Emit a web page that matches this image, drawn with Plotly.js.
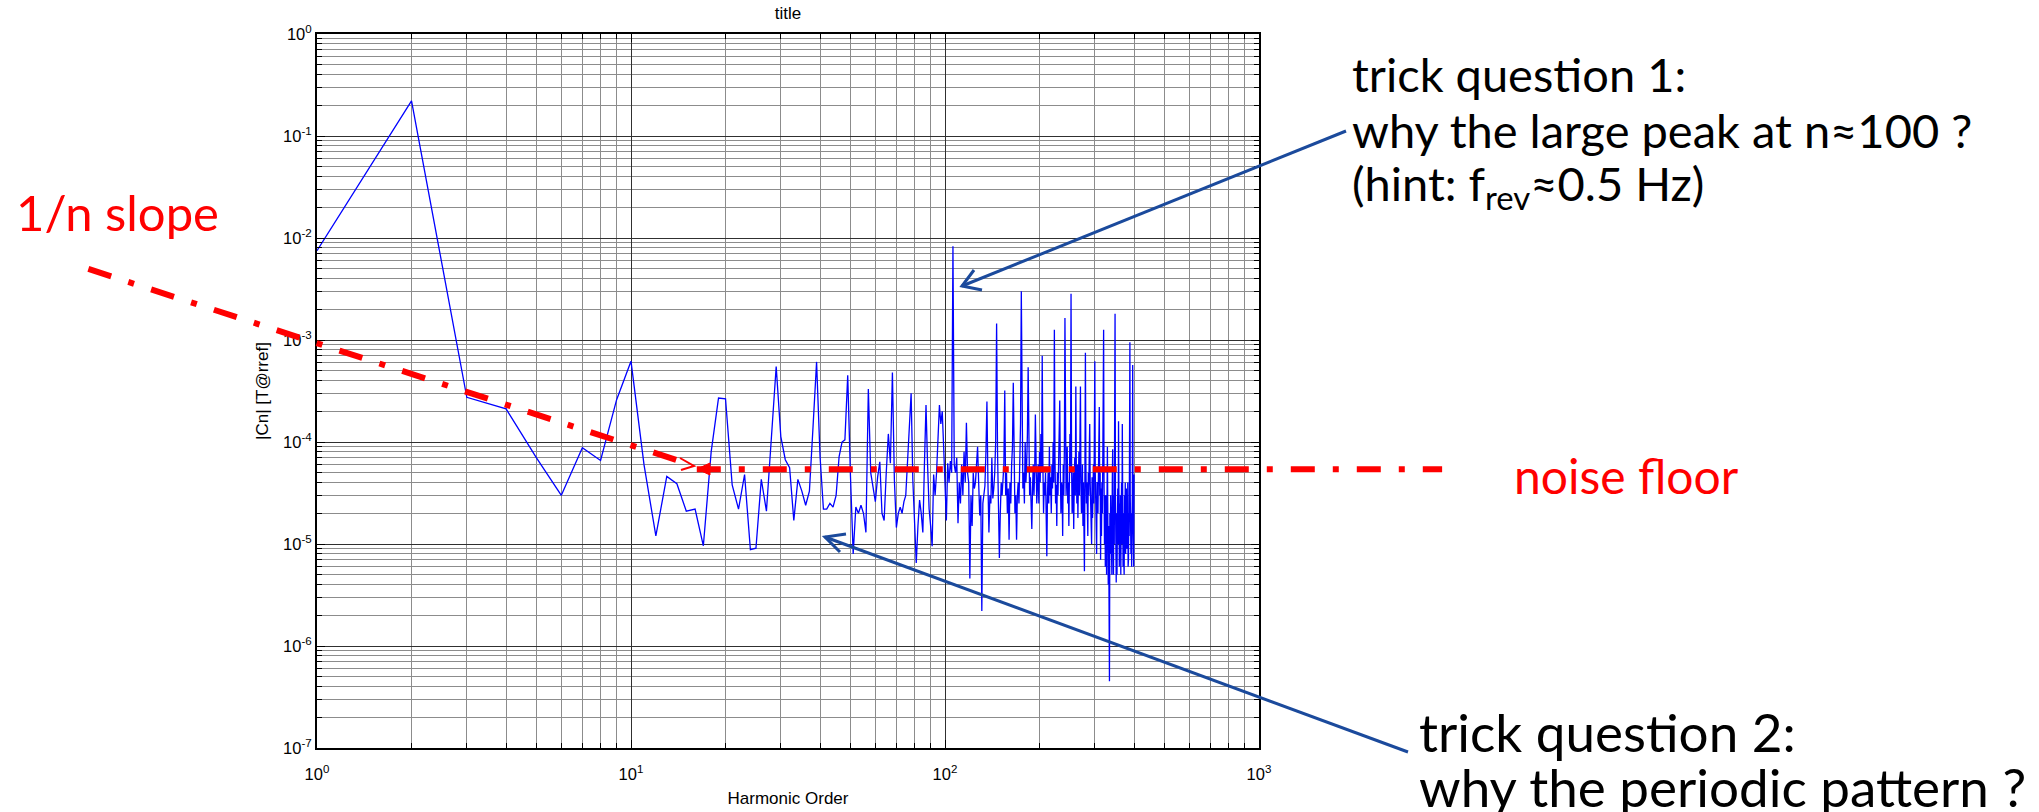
<!DOCTYPE html>
<html><head><meta charset="utf-8">
<script src="https://cdn.plot.ly/plotly-3.0.1.min.js"></script>
<style>html,body{margin:0;padding:0;background:#fff;}</style>
</head><body>
<div id="chart" style="width:2039px;height:812px"></div>
<script>
// |Cn| magnitude per harmonic order n = 1..400
const cn = [
 7.5e-3, 2.21e-1, 2.74e-4, 2.11e-4, 7.0e-5, 3.0e-5, 8.8e-5, 6.6e-5, 2.6e-4, 6.2e-4,
 6.0e-5, 1.2e-5, 4.6e-5, 3.9e-5, 2.1e-5, 2.2e-5, 9.6e-6, 8.0e-5, 2.7e-4, 2.65e-4,
 3.8e-5, 2.2e-5, 4.8e-5, 8.8e-6, 9.1e-6, 4.3e-5, 2.1e-5, 1.05e-4, 5.5e-4, 1.13e-4,
 6.7e-5, 5.6e-5, 1.7e-5, 4.3e-5, 3.3e-5, 2.4e-5, 3.3e-5, 1.42e-4, 6.1e-4, 7.2e-5,
 2.2e-5, 2.2e-5, 2.5e-5, 2.3e-5, 3.0e-5, 7.2e-5, 1.0e-4, 1.05e-4, 4.5e-4, 4.6e-5,
 8.0e-6, 2.3e-5, 2.0e-5, 2.4e-5, 2.0e-5, 1.3e-5, 3.3e-4, 5.0e-5, 3.7e-5, 2.6e-5,
 4.5e-5, 6.4e-5, 2.0e-5, 1.7e-5, 5.0e-5, 1.2e-4, 6.2e-5, 4.8e-4, 4.2e-5, 1.45e-5,
 2.0e-5, 2.3e-5, 2.0e-5, 2.6e-5, 3.0e-5, 6.0e-5, 1.2e-4, 3.0e-4, 4.2e-5, 1.5e-5,
 6.5e-6, 1.5e-5, 2.7e-5, 2.0e-5, 1.3e-5, 6.0e-5, 2.3e-4, 6.0e-5, 2.2e-5, 1.5e-5,
 9.5e-6, 4.8e-5, 3.0e-5, 5.0e-5, 1.2e-4, 2.3e-4, 1.5e-4, 2.0e-4, 9.0e-5, 4.0e-5,
 1.7e-5, 6.2e-5, 4.0e-5, 6.5e-5, 5.0e-5, 8.3e-3, 6.0e-5, 5.0e-5, 7.0e-5, 1.6e-5,
 4.0e-5, 2.5e-5, 6.0e-5, 3.0e-5, 8.0e-5, 4.0e-5, 1.54e-4, 5.0e-5, 4.0e-5, 4.6e-6,
 3.0e-5, 1.5e-5, 5.0e-5, 3.5e-5, 4.0e-5, 6.0e-5, 9.0e-5, 4.0e-5, 1.9e-5, 3.0e-5,
 2.2e-6, 2.5e-5, 3.0e-5, 3.7e-5, 8.0e-5, 2.5e-4, 4.0e-5, 1.3e-5, 3.0e-5, 2.5e-5,
 7.0e-5, 2.8e-5, 3.5e-5, 5.0e-5, 1.0e-4, 1.45e-3, 8.0e-5, 3.0e-5, 7.3e-6, 2.0e-5,
 4.0e-5, 3.0e-5, 5.0e-5, 6.0e-5, 3.2e-4, 3.0e-5, 5.0e-5, 2.0e-5, 3.5e-5, 1.1e-5,
 4.0e-5, 2.5e-5, 6.0e-5, 9.0e-5, 3.8e-4, 4.0e-5, 2.0e-5, 3.0e-5, 1.1e-5, 3.0e-5,
 4.0e-5, 2.5e-5, 6.0e-5, 1.5e-4, 3.0e-3, 6.0e-5, 3.5e-5, 5.0e-5, 2.5e-5, 1.0e-4,
 4.0e-5, 6.0e-5, 1.2e-4, 5.4e-4, 7.0e-5, 3.0e-5, 4.5e-5, 2.0e-5, 1.4e-5, 3.5e-5,
 6.0e-5, 3.0e-5, 5.0e-5, 1.86e-4, 4.0e-5, 2.5e-5, 3.8e-5, 6.0e-5, 2.5e-5, 8.0e-5,
 4.0e-5, 1.2e-4, 5.0e-5, 7.0e-4, 6.0e-5, 2.0e-5, 4.0e-5, 3.0e-5, 5.0e-5, 2.0e-5,
 7.6e-6, 3.0e-5, 5.0e-5, 2.5e-5, 9.0e-5, 3.0e-5, 4.5e-5, 2.0e-5, 6.0e-5, 3.5e-5,
 1.0e-4, 4.0e-5, 1.26e-3, 7.0e-5, 2.5e-5, 3.8e-5, 1.5e-5, 5.0e-5, 3.0e-5, 6.0e-5,
 1.0e-4, 2.55e-4, 5.0e-5, 2.0e-5, 4.0e-5, 3.5e-5, 1.2e-5, 6.0e-5, 3.0e-5, 9.0e-5,
 1.64e-3, 7.0e-5, 3.0e-5, 5.0e-5, 9.0e-5, 2.5e-5, 4.0e-5, 1.5e-5, 6.0e-5, 1.2e-4,
 5.0e-5, 2.84e-3, 6.0e-5, 2.0e-5, 2.6e-5, 5.0e-5, 1.4e-5, 4.0e-5, 7.0e-5, 3.0e-5,
 3.5e-4, 5.0e-5, 2.5e-5, 6.0e-5, 1.8e-5, 4.0e-5, 8.0e-5, 3.0e-5, 1.0e-4, 3.5e-4,
 4.0e-5, 2.0e-5, 2.5e-5, 6.0e-5, 1.5e-5, 4.0e-5, 2.0e-5, 5.4e-6, 5.0e-5, 7.5e-4,
 6.0e-5, 2.5e-5, 4.0e-5, 2.3e-5, 1.2e-5, 5.0e-5, 3.0e-5, 8.0e-5, 1.5e-4, 4.0e-5,
 2.0e-5, 3.0e-5, 1.0e-5, 4.5e-5, 1.8e-5, 3.0e-5, 6.0e-5, 2.5e-5, 1.2e-4, 6.2e-4,
 5.0e-5, 1.5e-5, 3.0e-5, 8.0e-6, 4.0e-5, 4.0e-5, 2.0e-5, 6.0e-5, 3.0e-5, 2.2e-4,
 3.0e-5, 5.0e-5, 7.0e-6, 3.5e-5, 1.2e-5, 4.0e-5, 2.0e-5, 6.0e-5, 1.5e-4, 1.26e-3,
 4.0e-5, 1.0e-5, 3.0e-5, 6.0e-6, 1.2e-5, 3.0e-5, 5.0e-6, 2.5e-5, 9.0e-5, 2.0e-5,
 4.0e-6, 1.5e-5, 3.0e-6, 4.5e-7, 2.0e-5, 8.0e-6, 3.0e-5, 8.0e-6, 2.5e-5, 5.0e-6,
 4.0e-5, 8.5e-5, 1.5e-5, 5.0e-6, 3.0e-5, 1.0e-5, 2.0e-4, 1.81e-3, 3.0e-5, 8.0e-6,
 4.2e-6, 2.0e-5, 5.0e-6, 1.5e-5, 3.5e-5, 1.0e-5, 1.6e-4, 2.0e-5, 6.0e-6, 2.5e-5,
 8.0e-6, 3.0e-5, 5.0e-6, 1.8e-5, 4.0e-5, 1.0e-5, 1.5e-4, 2.5e-5, 6.0e-6, 2.0e-5,
 7.0e-6, 5.0e-6, 3.0e-5, 1.2e-5, 4.0e-5, 8.0e-6, 2.0e-5, 3.5e-5, 9.0e-6, 2.5e-5,
 1.0e-5, 4.0e-5, 6.0e-6, 7.0e-6, 2.0e-5, 1.2e-5, 1.0e-4, 9.5e-4, 3.0e-5, 1.0e-5,
 8.0e-6, 2.0e-5, 6.0e-6, 1.5e-5, 3.0e-5, 5.7e-4, 2.0e-5, 1.0e-5, 6.0e-6, 4.8e-5
];
const harmonicOrder = cn.map((_, i) => i + 1);

// guide lines drawn over the plot (end points in data units)
const slopeLineN = [0.187, 15.6];
const slopeLineV = [4.97e-3, 5.96e-5];
const floorLineN = [16.2, 3830];
const floorLineV = [5.4e-5, 5.4e-5];

// tick labels
const xTickVals = [1, 10, 100, 1000];
const xTickText = ['10<sup>0</sup>', '10<sup>1</sup>', '10<sup>2</sup>', '10<sup>3</sup>'];
const yTickVals = [1e-7, 1e-6, 1e-5, 1e-4, 1e-3, 1e-2, 1e-1, 1];
const yTickText = ['10<sup>-7</sup>', '10<sup>-6</sup>', '10<sup>-5</sup>', '10<sup>-4</sup>',
                   '10<sup>-3</sup>', '10<sup>-2</sup>', '10<sup>-1</sup>', '10<sup>0</sup>'];
const xMinor = [], yMinor = [];
xTickVals.slice(0, -1).forEach(d => { for (let k = 2; k <= 9; k++) xMinor.push(k * d); });
yTickVals.slice(0, -1).forEach(d => { for (let k = 2; k <= 9; k++) yMinor.push(k * d); });

// geometry
const W = 2039, H = 812, PL = 317, PR = 1259, PT = 34, PB = 748;
const xR = [0, 3], yR = [-7, 0];
const nx = n => (Math.log10(n) - xR[0]) / (xR[1] - xR[0]);
const vy = v => (Math.log10(v) - yR[0]) / (yR[1] - yR[0]);
const px = x => (x - PL) / (PR - PL);
const py = y => (PB - y) / (PB - PT);

const RED = '#ff0000', ARROW = '#1b4a9c';
const DASHDOT = '24px,18px,6px,18px';
const TXT = 'Lato, Carlito, Calibri, sans-serif';
const AX = 'Liberation Sans, Arial, Helvetica, sans-serif';

function pathPx(pts, close) {
  return 'M' + pts.map(p => px(p[0]) + ',' + py(p[1])).join('L') + (close ? 'Z' : '');
}

const shapes = [
  {type:'line', xref:'paper', yref:'paper', x0:nx(slopeLineN[0]), y0:vy(slopeLineV[0]),
   x1:nx(slopeLineN[1]), y1:vy(slopeLineV[1]), line:{color:RED, width:6, dash:DASHDOT}},
  {type:'line', xref:'paper', yref:'paper', x0:nx(floorLineN[0]), y0:vy(floorLineV[0]),
   x1:nx(floorLineN[1]), y1:vy(floorLineV[1]), line:{color:RED, width:6, dash:DASHDOT}},
  // red arrow heads
  {type:'path', xref:'paper', yref:'paper', path:pathPx([[697,469],[710,463],[710,475]], true),
   fillcolor:RED, line:{color:RED, width:1}},
  {type:'path', xref:'paper', yref:'paper', path:pathPx([[680,458],[694,466],[681,470]], false),
   line:{color:RED, width:2}},
  // blue arrows
  {type:'line', xref:'paper', yref:'paper', x0:px(1346), y0:py(131), x1:px(962), y1:py(286),
   line:{color:ARROW, width:3}},
  {type:'path', xref:'paper', yref:'paper', path:pathPx([[974,270],[962,286],[982,290]], false),
   line:{color:ARROW, width:3}},
  {type:'line', xref:'paper', yref:'paper', x0:px(1408), y0:py(752), x1:px(825), y1:py(537),
   line:{color:ARROW, width:3}},
  {type:'path', xref:'paper', yref:'paper', path:pathPx([[846,534],[825,537],[840,552]], false),
   line:{color:ARROW, width:3}}
];

function note(text, x, y, size, color, h) {
  const a = {text:text, xref:'paper', yref:'paper', x:px(x), y:py(y), xanchor:'left', yanchor:'middle',
    showarrow:false, borderpad:0, borderwidth:0, font:{family:TXT, size:size, color:color}};
  if (h) { a.height = h; a.valign = 'middle'; }
  return a;
}
const annotations = [
  note('1/n slope', 16, 212, 49, RED),
  note('noise floor', 1514, 475, 48, RED),
  note('trick question 1:', 1352, 74, 47, '#000', 56),
  note('why the large peak at n\u2248100 ?', 1352, 130, 47, '#000', 56),
  note('(hint: f<sub>rev</sub>\u22480.5 Hz)', 1352, 186, 47, '#000', 56),
  note('trick question 2:', 1419, 731, 53, '#000'),
  note('why the periodic pattern ?', 1419, 786, 53, '#000')
];

const axisCommon = {
  type:'log', tickmode:'array', ticks:'inside', ticklen:8, tickwidth:1, tickcolor:'#000',
  showline:true, linecolor:'#000', linewidth:2, mirror:'ticks', zeroline:false,
  showgrid:true, gridcolor:'#303030', gridwidth:1,
  tickfont:{family:AX, size:16.5, color:'#000'}
};
const minorCommon = {tickmode:'array', ticks:'inside', ticklen:5, tickcolor:'#000',
  showgrid:true, gridcolor:'#8c8c8c', gridwidth:1};

const layout = {
  width:W, height:H, paper_bgcolor:'#fff', plot_bgcolor:'#fff', showlegend:false,
  margin:{l:PL, r:W-PR, t:PT, b:H-PB, pad:0},
  title:{text:'title', font:{family:AX, size:17, color:'#000'}, xref:'paper', x:0.5,
         yref:'container', y:1 - 13/H, yanchor:'middle'},
  xaxis:Object.assign({}, axisCommon, {range:xR, tickvals:xTickVals, ticktext:xTickText,
    ticklabelstandoff:10,
    minor:Object.assign({tickvals:xMinor}, minorCommon),
    title:{text:'Harmonic Order', font:{family:AX, size:17, color:'#000'}, standoff:10}}),
  yaxis:Object.assign({}, axisCommon, {range:yR, tickvals:yTickVals, ticktext:yTickText,
    minor:Object.assign({tickvals:yMinor}, minorCommon),
    title:{text:'|Cn| [T@rref]', font:{family:AX, size:17, color:'#000'}, standoff:10}}),
  shapes:shapes, annotations:annotations
};

const traces = [{x:harmonicOrder, y:cn, type:'scatter', mode:'lines',
  line:{color:'#0000ff', width:1.3}, hoverinfo:'x+y'}];

Plotly.newPlot('chart', traces, layout, {staticPlot:true, displayModeBar:false});
</script></body></html>
